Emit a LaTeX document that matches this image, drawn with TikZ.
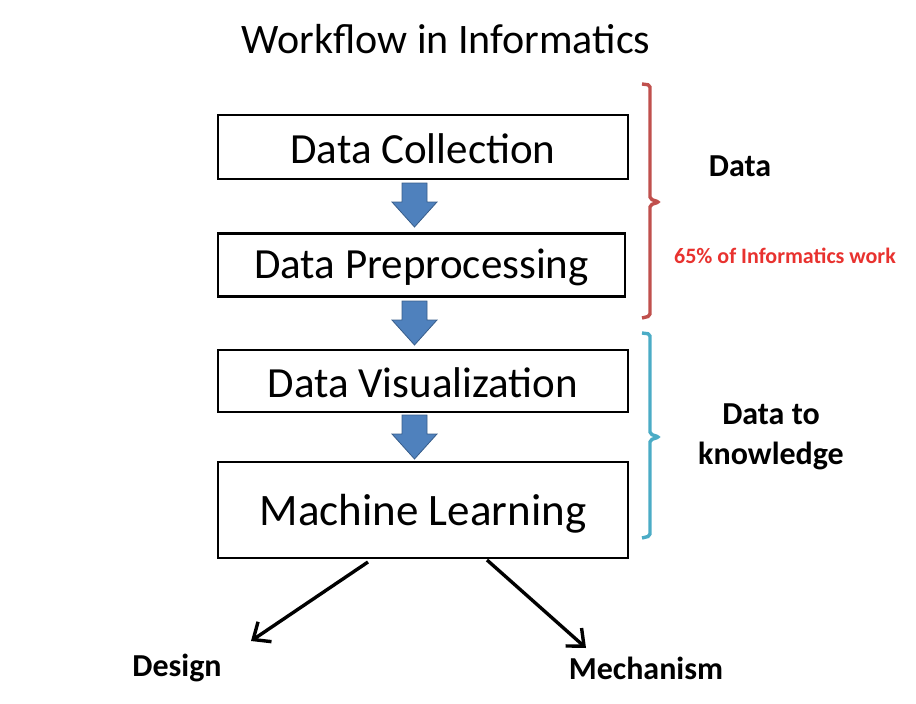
\documentclass[tikz,border=0pt]{standalone}
\usepackage{fontspec}
\setmainfont{Carlito}
\usetikzlibrary{arrows.meta}
\definecolor{bracered}{RGB}{192,80,77}
\definecolor{braceblue}{RGB}{75,172,198}
\definecolor{textred}{RGB}{232,50,47}
\definecolor{arrowfill}{RGB}{79,129,189}
\definecolor{arrowline}{RGB}{56,93,138}
\newcommand{\bdownarrow}[2]{%
  \filldraw[fill=arrowfill,draw=arrowline,line width=0.8pt]
    (#1-12.5,#2) -- (#1+12.5,#2) -- (#1+12.5,#2+19) -- (#1+22.5,#2+19)
    -- (#1,#2+44) -- (#1-22.5,#2+19) -- (#1-12.5,#2+19) -- cycle;}
\newcommand{\lowertext}[2]{\raisebox{-#1}[\height][\depth]{#2}}
\begin{document}
\begin{tikzpicture}[x=1pt,y=-1pt,
  stepbox/.style={draw=black,line width=2.8pt,fill=white,inner sep=0pt,
    font=\fontsize{43}{50}\selectfont},
  sidelabel/.style={font=\fontsize{32}{40}\selectfont\bfseries,align=center,inner sep=0pt},
  outarrow/.style={line width=3.4pt,-{Straight Barb[length=14pt,width=24pt,line width=3.4pt]}},
  brace/.style={line width=3.4pt,rounded corners=2pt}]
\useasboundingbox (0,0) rectangle (916,704);
\node[font=\fontsize{42}{50}\selectfont,inner sep=0pt] (title) at (446,39) {Workflow in Informatics};
\node[stepbox,minimum width=410pt,minimum height=64pt] (b1) at (423,147) {\lowertext{2pt}{Data Collection}};
\node[stepbox,minimum width=407pt,minimum height=63pt] (b2) at (421.5,265) {\lowertext{2pt}{Data Preprocessing}};
\node[stepbox,minimum width=410pt,minimum height=62pt] (b3) at (423,381) {\lowertext{2pt}{Data Visualization}};
\node[stepbox,minimum width=410pt,minimum height=96pt,font=\fontsize{45}{52}\selectfont] (b4) at (423,510) {\lowertext{4pt}{Machine Learning}};
\bdownarrow{414.5}{183}
\bdownarrow{414.5}{301}
\bdownarrow{414.5}{415}
\draw[brace,bracered] (642,84) -- (650,85) -- (650,199) -- (659,202) -- (650,205) -- (650,316) -- (642,318);
\draw[brace,braceblue] (642,333) -- (650,334) -- (650,434) -- (659,437) -- (650,440) -- (650,536) -- (642,538);
\node[sidelabel] (ldata) at (740,166) {Data};
\node[sidelabel,text=textred,font=\fontsize{22}{26}\selectfont\bfseries] (lpct) at (785,256) {65\% of Informatics work};
\node[sidelabel,font=\fontsize{32}{40}\selectfont\bfseries] (lknow) at (771,437) {Data to\\knowledge};
\node[sidelabel] (design) at (177,668) {Design};
\node[sidelabel] (mech) at (646,668) {Mechanism};
\coordinate (s1) at (368,562);
\coordinate (e1) at (251,641);
\coordinate (s2) at (487,560);
\coordinate (e2) at (586,648);
\draw[outarrow] (s1) -- (e1);
\draw[outarrow] (s2) -- (e2);
\end{tikzpicture}
\end{document}
